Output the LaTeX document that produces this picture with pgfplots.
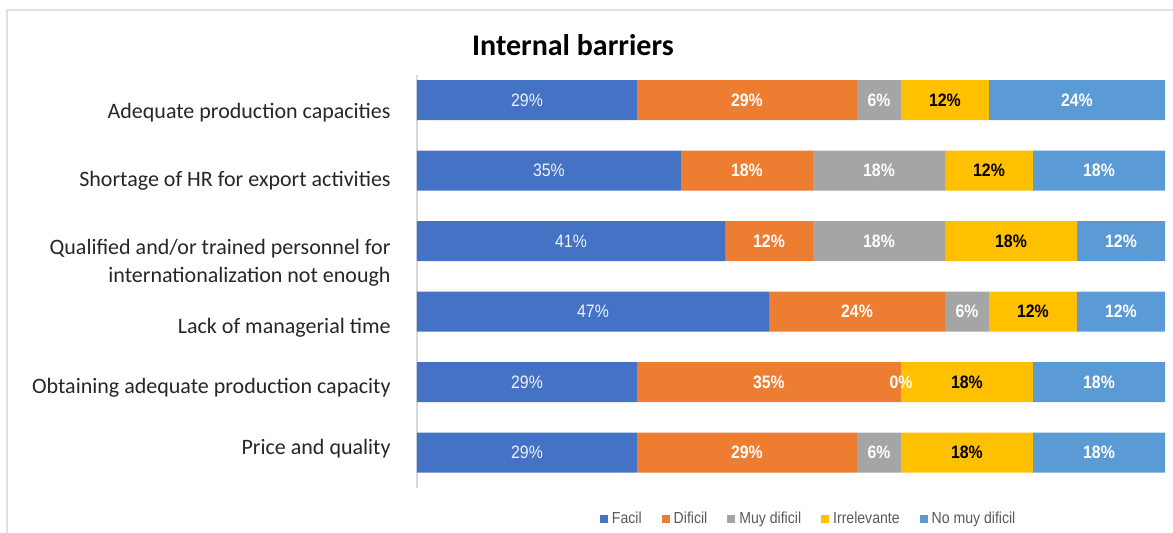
\documentclass[border=0pt]{standalone}
\usepackage{pgfplots}
\pgfplotsset{compat=1.18}
\usepackage{pgfplotstable}
\usepackage{fontspec}
\setmainfont{Carlito}
\newfontfamily\barfont[FakeStretch=0.88]{Liberation Sans}

\definecolor{cFacil}{HTML}{4472C4}
\definecolor{cDificil}{HTML}{ED7D31}
\definecolor{cMuy}{HTML}{A5A5A5}
\definecolor{cIrr}{HTML}{FFC000}
\definecolor{cNo}{HTML}{5B9BD5}

\pgfplotstableread{
c v
0 29.41
1 35.29
2 41.18
3 47.06
4 29.41
5 29.41
}\tFacil
\pgfplotstableread{
c v
0 29.41
1 17.65
2 11.76
3 23.53
4 35.29
5 29.41
}\tDificil
\pgfplotstableread{
c v
0 5.88
1 17.65
2 17.65
3 5.88
4 0
5 5.88
}\tMuy
\pgfplotstableread{
c v
0 11.76
1 11.76
2 17.65
3 11.76
4 17.65
5 17.65
}\tIrr
\pgfplotstableread{
c v
0 23.53
1 17.65
2 11.76
3 11.76
4 17.65
5 17.65
}\tNo

\begin{document}
\begin{tikzpicture}[x=1pt,y=1pt]
\path[use as bounding box] (0,0) rectangle (586.5,266.5);
\draw[black!12, line width=0.6pt] (3.5,0) -- (3.5,261.5) -- (586.5,261.5);
\node[font=\bfseries\fontsize{15}{18}\selectfont, text=black] at (286.5,244) {Internal barriers};
\begin{axis}[
  at={(208.5pt,22.5pt)}, anchor=south west,
  scale only axis, width=374pt, height=206.5pt,
  xbar stacked, bar width=20pt,
  xmin=0, xmax=100,
  ymin=-0.355, ymax=5.5, y dir=reverse,
  axis x line=none, axis y line*=left,
  axis line style={draw=black!15, -, line width=0.6pt},
  ytick={0.184,1.149,3.234,4.085,4.936},
  yticklabels={Adequate production capacities, Shortage of HR for export activities, Lack of managerial time, Obtaining adequate production capacity, Price and quality},
  extra y ticks={2.312},
  extra y tick labels={Qualified and/or trained personnel for\\internationalization not enough},
  major tick length=0pt,
  yticklabel style={align=right, font=\fontsize{11}{14}\selectfont, text=black!85, inner sep=0pt, xshift=-13pt},
  point meta=explicit,
  nodes near coords={\pgfmathprintnumber[fixed,precision=0,assume math mode=true]{\pgfplotspointmeta}\%},
  every node near coord/.append style={anchor=center, font=\barfont\bfseries\fontsize{9}{10}\selectfont, text=white},
  legend image code/.code={\fill[#1] (0pt,-2pt) rectangle (4pt,2pt);},
  legend style={at={(0.525,-0.075)}, anchor=center, draw=none, fill=none, legend columns=-1,
    font=\barfont\fontsize{8}{9}\selectfont, text=black!65,
    /tikz/every even column/.append style={column sep=8pt}},
]
\addplot[fill=cFacil, draw=none, every node near coord/.append style={font=\barfont\fontsize{9}{10}\selectfont, text=white!92!cFacil}] table[x=v, y=c, meta=v] {\tFacil};
\addplot[fill=cDificil, draw=none] table[x=v, y=c, meta=v] {\tDificil};
\addplot[fill=cMuy, draw=none] table[x=v, y=c, meta=v] {\tMuy};
\addplot[fill=cIrr, draw=none, every node near coord/.append style={text=black}] table[x=v, y=c, meta=v] {\tIrr};
\addplot[fill=cNo, draw=none] table[x=v, y=c, meta=v] {\tNo};
\legend{Facil, Dificil, Muy dificil, Irrelevante, No muy dificil}
% zero-width "Muy dificil" segment of row 5: its label, drawn on top
\addplot[forget plot, stack plots=false, sharp plot, draw=none, mark=none,
  every node near coord/.append style={xshift=121pt}] coordinates {(64.70,4) [0]};
\end{axis}
\end{tikzpicture}
\end{document}
